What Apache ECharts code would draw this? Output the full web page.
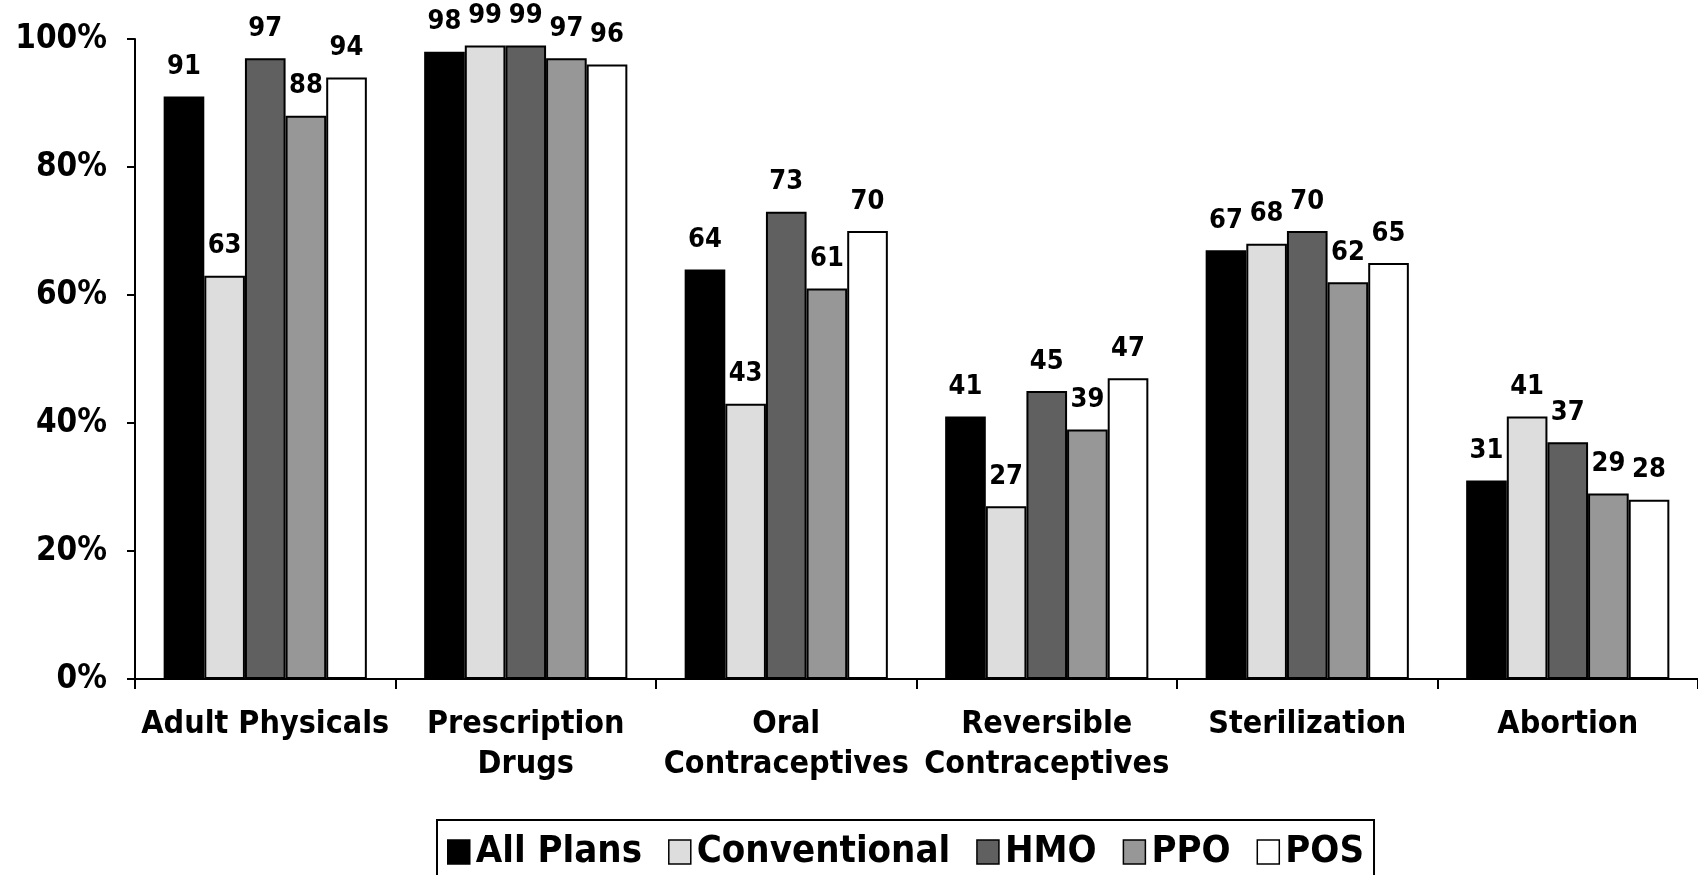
<!DOCTYPE html>
<html>
<head>
<meta charset="utf-8">
<script src="https://cdn.jsdelivr.net/npm/echarts@6/dist/echarts.min.js"></script>
<style>
  html, body { margin: 0; padding: 0; background: #fff; }
  #chart { width: 1698px; height: 875px; }
</style>
</head>
<body>
<div id="chart"></div>
<script>
// Benefit categories along the x axis
const categories = [
  'Adult Physicals',
  'Prescription\nDrugs',
  'Oral\nContraceptives',
  'Reversible\nContraceptives',
  'Sterilization',
  'Abortion'
];

// Share of plans covering each benefit (%)
const allPlans     = [91, 98, 64, 41, 67, 31];
const conventional = [63, 99, 43, 27, 68, 41];
const hmo          = [97, 99, 73, 45, 70, 37];
const ppo          = [88, 97, 61, 39, 62, 29];
const pos          = [94, 96, 70, 47, 65, 28];

const seriesNames = ['All Plans', 'Conventional', 'HMO', 'PPO', 'POS'];
const seriesData = [allPlans, conventional, hmo, ppo, pos];
const seriesColors = ['#000000', '#dddddd', '#606060', '#979797', '#ffffff'];

const FONT = '"DejaVu Sans Condensed", "DejaVu Sans", sans-serif';

const chart = echarts.init(document.getElementById('chart'), null, { renderer: 'canvas' });

chart.setOption({
  animation: false,
  backgroundColor: '#ffffff',
  textStyle: { fontFamily: FONT, fontWeight: 'bold', color: '#000' },
  grid: { left: 135, right: 0, top: 39, bottom: 196, containLabel: false },
  legend: {
    data: seriesNames,
    left: 437,
    top: 820,
    orient: 'horizontal',
    padding: [8, 10, 30, 10],
    borderColor: '#000',
    borderWidth: 2,
    itemWidth: 22,
    itemHeight: 24,
    itemGap: 26,
    icon: 'rect',
    itemStyle: { borderColor: '#000', borderWidth: 1.5 },
    textStyle: {
      fontFamily: FONT,
      fontWeight: 'bold',
      fontSize: 38,
      color: '#000',
      lineHeight: 48,
      padding: [0, 0, 0, 1]
    }
  },
  xAxis: {
    type: 'category',
    data: categories,
    axisLine: { lineStyle: { color: '#000', width: 2 } },
    axisTick: { show: true, length: 10, alignWithLabel: false, lineStyle: { color: '#000', width: 2 } },
    axisLabel: {
      interval: 0,
      margin: 26,
      fontFamily: FONT,
      fontWeight: 'bold',
      fontSize: 32,
      lineHeight: 40,
      color: '#000'
    },
    splitLine: { show: false }
  },
  yAxis: {
    type: 'value',
    min: 0,
    max: 100,
    interval: 20,
    axisLine: { show: true, lineStyle: { color: '#000', width: 2 } },
    axisTick: { show: true, length: 8, lineStyle: { color: '#000', width: 2 } },
    axisLabel: {
      formatter: '{value}%',
      margin: 28,
      fontFamily: FONT,
      fontWeight: 'bold',
      fontSize: 33,
      color: '#000'
    },
    splitLine: { show: false }
  },
  series: seriesNames.map((name, i) => ({
    name: name,
    type: 'bar',
    data: seriesData[i],
    barGap: '0%',
    barCategoryGap: '22%',
    itemStyle: { color: seriesColors[i], borderColor: '#000', borderWidth: 2 },
    label: {
      show: true,
      position: 'top',
      distance: 16,
      fontFamily: FONT,
      fontWeight: 'bold',
      fontSize: 27,
      color: '#000'
    }
  }))
});
</script>
</body>
</html>
